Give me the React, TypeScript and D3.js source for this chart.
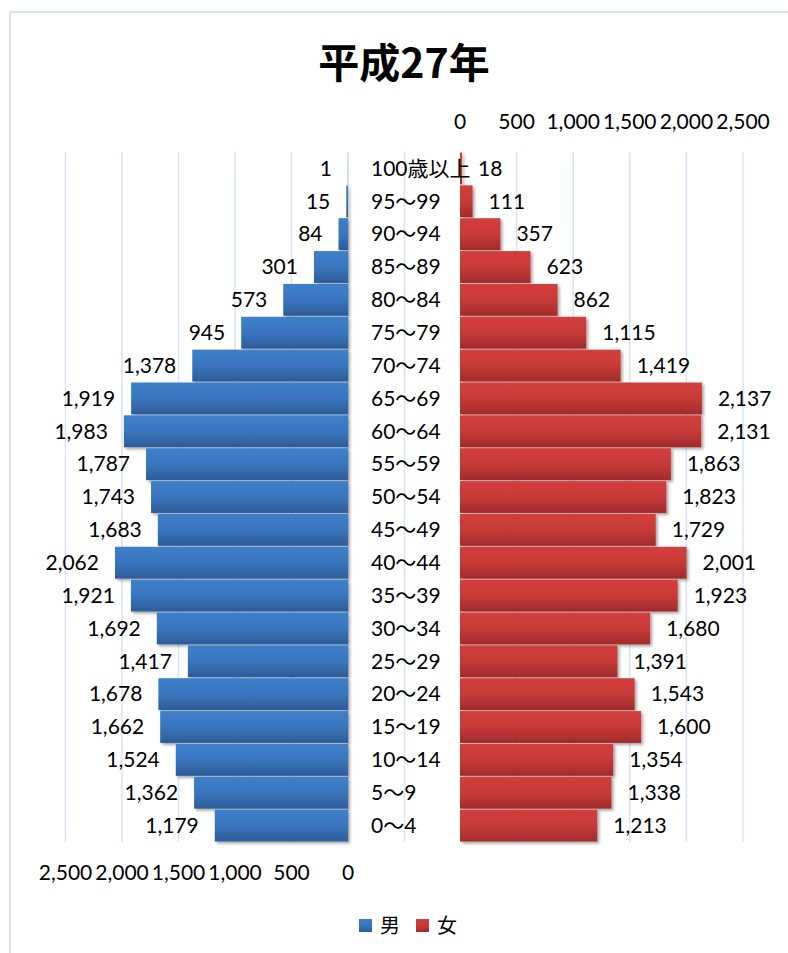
import React from "react";
import * as d3 from "d3";

const ageGroups = ["0〜4","5〜9","10〜14","15〜19","20〜24","25〜29","30〜34","35〜39","40〜44","45〜49","50〜54","55〜59","60〜64","65〜69","70〜74","75〜79","80〜84","85〜89","90〜94","95〜99","100歳以上"];
const maleValues = [1179,1362,1524,1662,1678,1417,1692,1921,2062,1683,1743,1787,1983,1919,1378,945,573,301,84,15,1];
const femaleValues = [1213,1338,1354,1600,1543,1391,1680,1923,2001,1729,1823,1863,2131,2137,1419,1115,862,623,357,111,18];
const axisTicks = [0,500,1000,1500,2000,2500];
const gridTicks = [-500,0,500,1000,1500,2000,2500];
const title = "平成27年";
const legendLabels = ["男","女"];

const W = 788, H = 953;
const FONT = "Lato, 'Noto Sans CJK JP', sans-serif";
const fmt = d3.format(",");

export default function App() {
  const xMale = d3.scaleLinear().domain([0, 2500]).range([348, 65.5]);
  const xFemale = d3.scaleLinear().domain([0, 2500]).range([460, 743]);
  const y = d3.scaleBand<string>().domain([...ageGroups].reverse()).range([152, 842]).paddingInner(0.03).paddingOuter(0.015);
  const bh = y.bandwidth();
  const fs = 21;
  return (
    <svg width={W} height={H} style={{ position: "absolute", left: 0, top: 0 }}>
      <defs>
        <linearGradient id="gBlue" x1="0" y1="0" x2="0" y2="1">
          <stop offset="0" stopColor="#3F7FCB" />
          <stop offset="0.5" stopColor="#3A76BF" />
          <stop offset="1" stopColor="#2C5C98" />
        </linearGradient>
        <linearGradient id="gRed" x1="0" y1="0" x2="0" y2="1">
          <stop offset="0" stopColor="#D33F3D" />
          <stop offset="0.5" stopColor="#C83A38" />
          <stop offset="1" stopColor="#A02B2A" />
        </linearGradient>
        <filter id="sh" x="-10%" y="-20%" width="130%" height="160%">
          <feDropShadow dx="2" dy="2" stdDeviation="1.5" floodColor="#000" floodOpacity="0.35" />
        </filter>
      </defs>
      <rect x={0} y={0} width={W} height={H} fill="#fff" />
      <rect x={10} y={12} width={W + 20} height={H + 20} fill="#fff" stroke="#D6E3F3" strokeWidth={2} />
      <text x={404} y={78} textAnchor="middle" fontFamily="'Noto Sans CJK JP', sans-serif" fontWeight={700} fontSize={41} fill="#000">{title}</text>
      {gridTicks.map((t) => (
        <line key={"gm" + t} x1={xMale(t)} x2={xMale(t)} y1={152} y2={842} stroke="#D6E3F3" strokeWidth={1.5} />
      ))}
      {gridTicks.filter((t) => t > 0).map((t) => (
        <line key={"gf" + t} x1={xFemale(t)} x2={xFemale(t)} y1={152} y2={842} stroke="#D6E3F3" strokeWidth={1.5} />
      ))}
      {axisTicks.map((t) => (
        <text key={"tf" + t} x={xFemale(t)} y={129} textAnchor="middle" fontFamily={FONT} fontSize={fs} fill="#000">{fmt(t)}</text>
      ))}
      {axisTicks.map((t) => (
        <text key={"tm" + t} x={xMale(t)} y={880} textAnchor="middle" fontFamily={FONT} fontSize={fs} fill="#000">{fmt(t)}</text>
      ))}
      <g filter="url(#sh)">
        {ageGroups.map((a, i) => (
          <rect key={"m" + a} x={xMale(maleValues[i])} y={y(a)!} width={xMale(0) - xMale(maleValues[i])} height={bh} fill="url(#gBlue)" />
        ))}
        {ageGroups.map((a, i) => (
          <rect key={"f" + a} x={xFemale(0)} y={y(a)!} width={xFemale(femaleValues[i]) - xFemale(0)} height={bh} fill="url(#gRed)" />
        ))}
      </g>
      {ageGroups.map((a, i) => (
        <text key={"lm" + a} x={xMale(maleValues[i]) - 16} y={y(a)! + bh / 2} dy="0.35em" textAnchor="end" fontFamily={FONT} fontSize={fs} fill="#000">{fmt(maleValues[i])}</text>
      ))}
      {ageGroups.map((a, i) => (
        <text key={"lf" + a} x={xFemale(femaleValues[i]) + 16} y={y(a)! + bh / 2} dy="0.35em" textAnchor="start" fontFamily={FONT} fontSize={fs} fill="#000">{fmt(femaleValues[i])}</text>
      ))}
      {ageGroups.map((a) => (
        <text key={"ag" + a} x={371} y={y(a)! + bh / 2} dy="0.35em" textAnchor="start" fontFamily={FONT} fontSize={fs} fill="#000">{a}</text>
      ))}
      <rect x={359} y={919} width={13} height={13} fill="url(#gBlue)" />
      <text x={380} y={926} dy="0.35em" fontFamily="'Noto Sans CJK JP', sans-serif" fontSize={20} fill="#000">{legendLabels[0]}</text>
      <rect x={416} y={919} width={13} height={13} fill="url(#gRed)" />
      <text x={437} y={926} dy="0.35em" fontFamily="'Noto Sans CJK JP', sans-serif" fontSize={20} fill="#000">{legendLabels[1]}</text>
    </svg>
  );
}
